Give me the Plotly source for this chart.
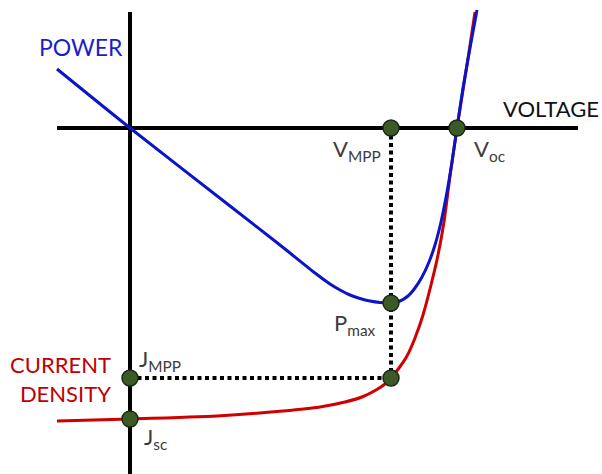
import plotly.graph_objects as go

# Schematic J-V and P-V curves of a solar cell (arbitrary units, axes cross at the origin)
voltage_j = [-73, 0, 87, 153, 190, 215, 232, 246, 255, 261, 269, 277, 285, 293, 301,
             308, 314, 320, 327, 333, 339, 345]
current_density = [-293, -291, -288, -283, -279, -274, -269, -262, -256, -250, -240, -228,
                   -210, -187, -157, -127, -94, -48, 0, 38, 76, 116]

voltage_p = [-73, 0, 100, 150, 185, 200, 210, 220, 230, 240, 250, 261, 270, 278, 285, 292,
             299, 305, 311, 317, 322, 327, 333, 340, 347]
power = [59, 0, -78, -117, -145, -156, -162, -167, -170.5, -173, -174.5, -175, -173, -168,
         -160, -149, -134, -117, -94, -64, -34, 0, 40, 80, 118]

# Characteristic points
V_MPP = 261
V_OC = 327
J_MPP = -250
J_SC = -291
P_MAX = -175

# Axis extents
X_AXIS = [-73, 448]
Y_AXIS = [116, -346]

RED = "#D00000"
BLUE = "#0A14C8"
LABEL_GREY = "#3C3C3C"
FONT = "Lato, 'Open Sans', sans-serif"

fig = go.Figure()

# Coordinate axes
fig.add_trace(go.Scatter(x=X_AXIS, y=[0, 0], mode="lines",
                         line=dict(color="black", width=4), hoverinfo="skip"))
fig.add_trace(go.Scatter(x=[0, 0], y=Y_AXIS, mode="lines",
                         line=dict(color="black", width=4), hoverinfo="skip"))

# Dotted guides to the maximum power point
fig.add_trace(go.Scatter(x=[V_MPP, V_MPP], y=[0, J_MPP], mode="lines",
                         line=dict(color="black", width=4, dash="4px,3.5px"), hoverinfo="skip"))
fig.add_trace(go.Scatter(x=[0, V_MPP], y=[J_MPP, J_MPP], mode="lines",
                         line=dict(color="black", width=4, dash="4px,3.5px"), hoverinfo="skip"))

# Curves
fig.add_trace(go.Scatter(x=voltage_j, y=current_density, mode="lines",
                         line=dict(color=RED, width=3, shape="spline", smoothing=0.6)))
fig.add_trace(go.Scatter(x=voltage_p, y=power, mode="lines",
                         line=dict(color=BLUE, width=3, shape="spline", smoothing=0.6)))

# Marked points
pts_x = [V_MPP, V_OC, V_MPP, V_MPP, 0, 0]
pts_y = [0, 0, P_MAX, J_MPP, J_MPP, J_SC]
fig.add_trace(go.Scatter(x=pts_x, y=pts_y, mode="markers",
                         marker=dict(size=16, color="#3B5A28",
                                     line=dict(color="#1B2A12", width=1.5))))

ann = []
ann.append(dict(x=-49, y=81, text="POWER", xanchor="center", yanchor="middle",
                font=dict(family=FONT, size=23, color="#1E1EC8")))
ann.append(dict(x=421, y=20, text="VOLTAGE", xanchor="center", yanchor="middle",
                font=dict(family=FONT, size=22, color="#111111")))
ann.append(dict(x=-17, y=-251, text="CURRENT<br>DENSITY", xanchor="right", yanchor="middle",
                align="right", font=dict(family=FONT, size=22, color="#C00000")))
ann.append(dict(x=253, y=-22, text="V<sub>MPP</sub>", xanchor="right", yanchor="middle",
                font=dict(family=FONT, size=22, color=LABEL_GREY)))
ann.append(dict(x=342, y=-22, text="V<sub>oc</sub>", xanchor="left", yanchor="middle",
                font=dict(family=FONT, size=22, color=LABEL_GREY)))
ann.append(dict(x=248, y=-196, text="P<sub>max</sub>", xanchor="right", yanchor="middle",
                font=dict(family=FONT, size=22, color=LABEL_GREY)))
ann.append(dict(x=7, y=-232, text="J<sub>MPP</sub>", xanchor="left", yanchor="middle",
                font=dict(family=FONT, size=22, color=LABEL_GREY)))
ann.append(dict(x=12, y=-310, text="J<sub>sc</sub>", xanchor="left", yanchor="middle",
                font=dict(family=FONT, size=22, color=LABEL_GREY)))
for a in ann:
    a.update(showarrow=False, xref="x", yref="y")

fig.update_layout(
    width=602, height=474,
    margin=dict(l=0, r=0, t=0, b=0),
    paper_bgcolor="white", plot_bgcolor="white",
    showlegend=False,
    annotations=ann,
    xaxis=dict(range=[-130, 472], visible=False, fixedrange=True),
    yaxis=dict(range=[-346, 128], visible=False, fixedrange=True),
)

fig.write_html("out.html", config={"displayModeBar": False})
